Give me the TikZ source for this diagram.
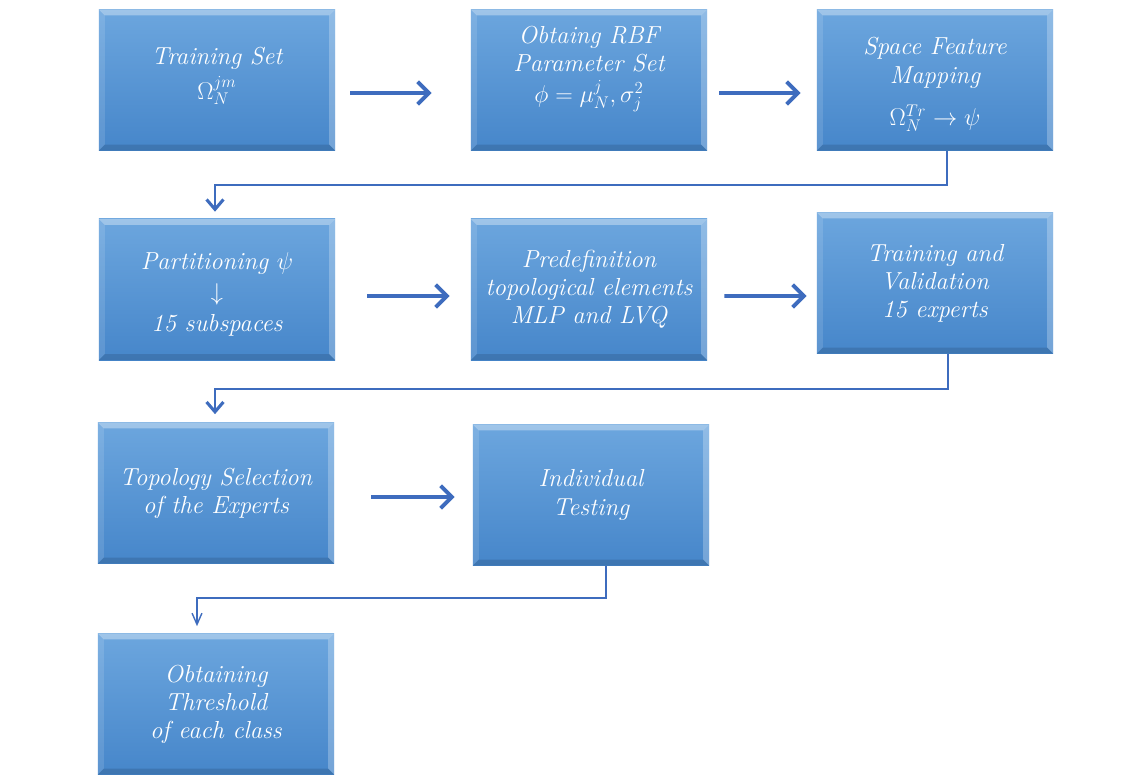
\documentclass[tikz,border=0pt]{standalone}
\usetikzlibrary{arrows.meta,calc}
\definecolor{boxtop}{RGB}{108,166,222}
\definecolor{boxbot}{RGB}{70,134,202}
\definecolor{flow}{RGB}{62,108,190}
\begin{document}
\begin{tikzpicture}[x=0.025cm,y=-0.025cm,
  stage/.style={rectangle,minimum width=5.9cm,minimum height=3.525cm,inner sep=0pt,
    top color=boxtop,bottom color=boxbot,text=white,align=center,
    font=\fontsize{17.5}{20}\selectfont\itshape,
    path picture={
      \path (path picture bounding box.north west) coordinate (pnw)
            (path picture bounding box.north east) coordinate (pne)
            (path picture bounding box.south west) coordinate (psw)
            (path picture bounding box.south east) coordinate (pse);
      \fill[white,opacity=.35] (pnw) -- (pne) -- ($(pne)+(-6,6)$) -- ($(pnw)+(6,6)$) -- cycle;
      \fill[white,opacity=.12] (pnw) -- ($(pnw)+(6,6)$) -- ($(psw)+(6,-6)$) -- (psw) -- cycle;
      \fill[white,opacity=.25] (pne) -- ($(pne)+(-6,6)$) -- ($(pse)+(-6,-6)$) -- (pse) -- cycle;
      \fill[black,opacity=.12] (psw) -- ($(psw)+(6,-6)$) -- ($(pse)+(-6,-6)$) -- (pse) -- cycle;}},
  fwd/.style={flow,line width=2.8pt,-{Straight Barb[length=8pt,width=16pt]}},
  link/.style={flow,line width=1.8pt,-{Straight Barb[length=7pt,width=12pt,line width=2.2pt]}},
  thinlink/.style={flow,line width=1.6pt,-{Straight Barb[length=8pt,width=7pt,line width=1pt]}}]
\useasboundingbox (0,0) rectangle (1140,776);

\node[stage] (train) at (217,80) {Training Set\\[5pt] $\Omega_N^{jm}$\\[-10pt]};
\node[stage] (rbf) at (589,80) {Obtaing RBF\\ Parameter Set\\[2pt] $\phi=\mu_N^j,\sigma_j^2$\\[2pt]};
\node[stage] (map) at (935,80) {Space Feature\\ Mapping\\[10pt] $\Omega_N^{Tr}\rightarrow\psi$\\[-22pt]};
\node[stage] (part) at (217,289.5) {Partitioning $\psi$\\[2pt] $\downarrow$\\[2pt] 15 subspaces\\[-24pt]};
\node[stage] (predef) at (589,289.5) {Predefinition\\ topological elements\\ MLP and LVQ};
\node[stage] (valid) at (935,283) {Training and\\ Validation\\ 15 experts};
\node[stage] (select) at (216,493) {Topology Selection\\ of the Experts};
\node[stage] (test) at (591,495) {Individual\\ Testing};
\node[stage] (thresh) at (216,704) {Obtaining\\ Threshold\\ of each class};

\draw[fwd] ($(train.east)+(15,13)$) -- ($(rbf.west)+(-39,13)$);
\draw[fwd] ($(rbf.east)+(12,13)$) -- ($(map.west)+(-16,13)$);
\draw[fwd] ($(part.east)+(32,6.5)$) -- ($(predef.west)+(-21,6.5)$);
\draw[fwd] ($(predef.east)+(17,6.5)$) -- ($(valid.west)+(-10,13)$);
\draw[fwd] ($(select.east)+(37,4)$) -- ($(test.west)+(-18,2)$);

\draw[link] ($(map.south)+(12,0)$) -- ++(0,34) -| ($(part.north)+(-2,-7)$);
\draw[link] ($(valid.south)+(13,0)$) -- ++(0,35) -| ($(select.north)+(-1,-8)$);
\draw[thinlink] ($(test.south)+(15,0)$) -- ++(0,32) -| ($(thresh.north)+(-19,-7)$);
\end{tikzpicture}
\end{document}
